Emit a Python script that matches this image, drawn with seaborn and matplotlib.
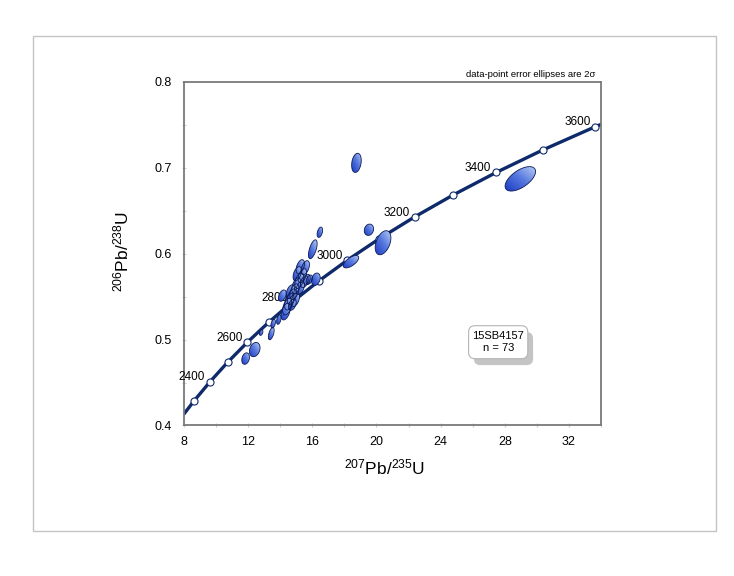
import numpy as np
import pandas as pd
import matplotlib
matplotlib.use('Agg')
import matplotlib.pyplot as plt
import seaborn as sns
from matplotlib.patches import Polygon, Rectangle, FancyBboxPatch
from matplotlib.colors import LinearSegmentedColormap
from matplotlib.ticker import MultipleLocator

# concordia curve (Ma, 207Pb/235U, 206Pb/238U)
conc_age = [2231, 2300, 2400, 2500, 2600, 2700, 2800, 2900, 3000, 3100, 3200, 3300, 3400, 3500, 3600, 3610]
conc_x = [8.000, 8.633, 9.629, 10.730, 11.944, 13.284, 14.762, 16.392, 18.193, 20.179,
          22.373, 24.790, 27.459, 30.404, 33.655, 34.000]
conc_y = [0.4135, 0.4288, 0.4511, 0.4738, 0.4968, 0.5202, 0.5440, 0.5681, 0.5926, 0.6175,
          0.6428, 0.6685, 0.6946, 0.7211, 0.7480, 0.7506]
label_ages = [2400, 2600, 2800, 3000, 3200, 3400, 3600]

# analyses: centre, 2 sigma errors, error correlation
pb7_u5 = [18.75, 19.53, 20.41, 18.41, 16.47, 16.03, 16.22, 15.66, 28.97,
          13.44, 13.91, 13.56, 12.81, 12.41, 11.84,
          15.25, 15.56, 15.06, 15.38, 15.19, 15.50, 15.00, 15.25, 14.88,
          14.72, 14.94, 14.56, 14.44, 14.34, 14.13, 14.75, 15.81, 14.63]
pb6_u8 = [0.7058, 0.6279, 0.6128, 0.5907, 0.6250, 0.6052, 0.5703, 0.5698, 0.6872,
          0.5070, 0.5233, 0.5186, 0.5081, 0.4884, 0.4779,
          0.5849, 0.5837, 0.5767, 0.5744, 0.5686, 0.5674, 0.5628, 0.5605, 0.5558,
          0.5500, 0.5465, 0.5442, 0.5384, 0.5326, 0.5512, 0.5407, 0.5698, 0.5558]
err_x = [0.30, 0.29, 0.49, 0.48, 0.17, 0.27, 0.27, 0.21, 0.95,
         0.18, 0.14, 0.14, 0.11, 0.33, 0.24,
         0.26, 0.26, 0.26, 0.26, 0.28, 0.24, 0.28, 0.26, 0.28,
         0.28, 0.26, 0.29, 0.29, 0.29, 0.24, 0.24, 0.20, 0.26]
err_y = [0.0112, 0.0066, 0.0140, 0.0072, 0.0060, 0.0110, 0.0072, 0.0062, 0.0142,
         0.0072, 0.0055, 0.0050, 0.0032, 0.0083, 0.0067,
         0.0082, 0.0082, 0.0082, 0.0082, 0.0090, 0.0068, 0.0090, 0.0080, 0.0090,
         0.0090, 0.0080, 0.0097, 0.0097, 0.0097, 0.0066, 0.0066, 0.0054, 0.0080]
rho = [0.25, 0.15, 0.4, 0.65, 0.4, 0.6, 0.25, 0.3, 0.6,
       0.55, 0.4, 0.4, 0.4, 0.25, 0.25,
       0.45, 0.45, 0.45, 0.45, 0.45, 0.4, 0.45, 0.45, 0.45,
       0.45, 0.45, 0.45, 0.45, 0.45, 0.4, 0.4, 0.4, 0.45]

sns.set_theme(style='white')
plt.rcParams['font.family'] = ['Liberation Sans', 'DejaVu Sans']
plt.rcParams['mathtext.default'] = 'regular'

fig = plt.figure(figsize=(7.34, 5.76), dpi=100)
fig.patches.append(Rectangle((0.045, 0.078), 0.9305, 0.859, transform=fig.transFigure,
                             fill=False, ec='#c4c4c4', lw=1))
ax = fig.add_axes([0.2507, 0.2613, 0.5681, 0.5964])

conc = pd.DataFrame({'age': conc_age, 'x': conc_x, 'y': conc_y})
sns.lineplot(data=conc, x='x', y='y', sort=False, estimator=None, color='#0f2a6b', lw=2.4, ax=ax, zorder=2)
marks = conc.iloc[1:-1]
sns.scatterplot(data=marks, x='x', y='y', s=26, color='white', edgecolor='#0f2a6b', linewidth=0.8,
                ax=ax, zorder=3)
for _, r in marks.iterrows():
    if int(r['age']) in label_ages:
        ax.annotate(str(int(r['age'])), (r['x'], r['y']), xytext=(-3.5, 3), textcoords='offset points',
                    ha='right', va='center', fontsize=8.5, color='black', zorder=3)

# error ellipses with gradient fill
cmap = LinearSegmentedColormap.from_list('ell', ['#1d3bc4', '#5577dd', '#b8ccf6'])
t = np.linspace(0, 2 * np.pi, 120)
gx, gy = np.meshgrid(np.linspace(0, 1, 40), np.linspace(0, 1, 40))
grad = (gx + gy) / 2
for cx, cy, sx, sy, r in zip(pb7_u5, pb6_u8, err_x, err_y, rho):
    cov = np.array([[sx * sx, r * sx * sy], [r * sx * sy, sy * sy]])
    L = np.linalg.cholesky(cov)
    pts = np.column_stack([cx + L[0, 0] * np.cos(t),
                           cy + L[1, 0] * np.cos(t) + L[1, 1] * np.sin(t)])
    poly = Polygon(pts, closed=True, fc='none', ec='#0b1a55', lw=0.6, zorder=5)
    ax.add_patch(poly)
    im = ax.imshow(grad, cmap=cmap, origin='lower', aspect='auto', zorder=4,
                   extent=[pts[:, 0].min(), pts[:, 0].max(), pts[:, 1].min(), pts[:, 1].max()])
    im.set_clip_path(poly)

ax.set_xlim(8, 34)
ax.set_ylim(0.4, 0.8)
ax.xaxis.set_major_locator(MultipleLocator(4))
ax.xaxis.set_minor_locator(MultipleLocator(2))
ax.yaxis.set_major_locator(MultipleLocator(0.1))
ax.yaxis.set_minor_locator(MultipleLocator(0.05))
ax.yaxis.set_major_formatter(matplotlib.ticker.FormatStrFormatter('%.1f'))
ax.tick_params(which='both', direction='inout', length=3, width=0.8, color='#cccccc',
               labelsize=9, labelcolor='black', bottom=True, left=True)
ax.tick_params(axis='x', pad=6)
ax.tick_params(axis='y', pad=7)
for s in ax.spines.values():
    s.set_color('#7a7a7a')
    s.set_linewidth(1.3)

ax.set_xlabel(r'$^{207}$Pb/$^{235}$U', fontsize=12.5, color='black')
ax.set_ylabel(r'$^{206}$Pb/$^{238}$U', fontsize=12.5, color='black')
ax.xaxis.set_label_coords(0.48, -0.092)
ax.yaxis.set_label_coords(-0.125, 0.507)

ax.text(0.986, 1.021, 'data-point error ellipses are 2σ', transform=ax.transAxes, ha='right',
        va='center', fontsize=6.8, color='black')

# sample box with drop shadow
box_x, box_y, box_w, box_h = 25.745, 0.4778, 3.69, 0.0384
ax.add_patch(FancyBboxPatch((box_x + 0.33, box_y - 0.0075), box_w, box_h,
                            boxstyle='round,pad=0,rounding_size=0.4', mutation_aspect=16 / 860,
                            fc='#c4c4c4', ec='none', zorder=6))
ax.add_patch(FancyBboxPatch((box_x, box_y), box_w, box_h,
                            boxstyle='round,pad=0,rounding_size=0.4', mutation_aspect=16 / 860,
                            fc='white', ec='#b5b5b5', lw=0.8, zorder=7))
ax.text(box_x + box_w / 2, box_y + box_h / 2, '15SB4157\nn = 73', ha='center', va='center',
        fontsize=8, color='black', zorder=8)

fig.savefig('out.png', dpi=100)
